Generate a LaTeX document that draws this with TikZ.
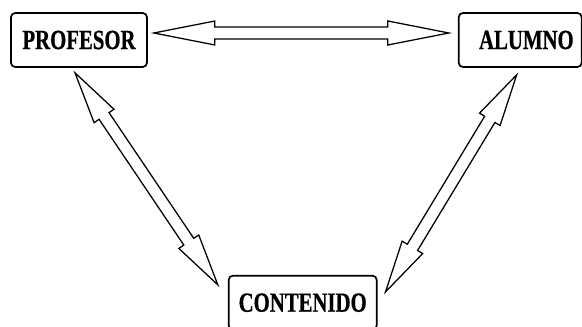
\documentclass[tikz,border=0pt]{standalone}
\usepackage{fontspec}
\newfontfamily\boxfont{Liberation Serif}[FakeStretch=0.75, FakeBold=0.6]
\usetikzlibrary{positioning, calc}

\begin{document}
\begin{tikzpicture}[box/.style={rectangle, draw, rounded corners=3pt, line width=1.2pt, minimum height=1.35cm, inner sep=0pt, font=\boxfont\bfseries\fontsize{19.7}{22}\selectfont}, headlen/.store in=\headlen, headlen=1.3cm, dblarrow/.style={draw, line width=0.9pt, line join=miter, to path={
            -- ($(\tikztostart)!\headlen!(\tikztotarget)!0.3cm!90:(\tikztotarget)$)
            -- ($(\tikztostart)!\headlen!(\tikztotarget)!0.15cm!90:(\tikztotarget)$)
            -- ($(\tikztotarget)!\headlen!(\tikztostart)!0.15cm!-90:(\tikztostart)$)
            -- ($(\tikztotarget)!\headlen!(\tikztostart)!0.3cm!-90:(\tikztostart)$)
            -- (\tikztotarget)
            -- ($(\tikztotarget)!\headlen!(\tikztostart)!0.3cm!90:(\tikztostart)$)
            -- ($(\tikztotarget)!\headlen!(\tikztostart)!0.15cm!90:(\tikztostart)$)
            -- ($(\tikztostart)!\headlen!(\tikztotarget)!0.15cm!-90:(\tikztotarget)$)
            -- ($(\tikztostart)!\headlen!(\tikztotarget)!0.3cm!-90:(\tikztotarget)$)
            -- cycle}}]
        \useasboundingbox (0,0) rectangle (14.55,-8.175);
        \node[box, minimum width=3.4cm] (profesor) at (1.975,-1) {PROFESOR};
        \node[box, minimum width=3.075cm, text width=2.675cm, align=right, right=7.75cm of profesor] (alumno) {ALUMNO};
        \node[box, minimum width=3.7cm, below right=5.175cm and 2cm of profesor] (contenido) {CONTENIDO};
        % puntas de las flechas
        \coordinate (p1) at ([shift={(0.15,0.175)}]profesor.east);
        \coordinate (a1) at ([shift={(-0.225,0.175)}]alumno.west);
        \coordinate (p2) at ([shift={(-0.1,-0.125)}]profesor.south);
        \coordinate (c1) at ([shift={(-0.25,-0.25)}]contenido.north west);
        \coordinate (a2) at ([shift={(-0.0875,-0.175)}]alumno.south);
        \coordinate (c2) at ([shift={(0.2,-0.425)}]contenido.north east);
        \draw[dblarrow, headlen=1.525cm] (p1) to (a1);
        \draw[dblarrow] (p2) to (c1);
        \draw[dblarrow] (a2) to (c2);
    \end{tikzpicture}
\end{document}
